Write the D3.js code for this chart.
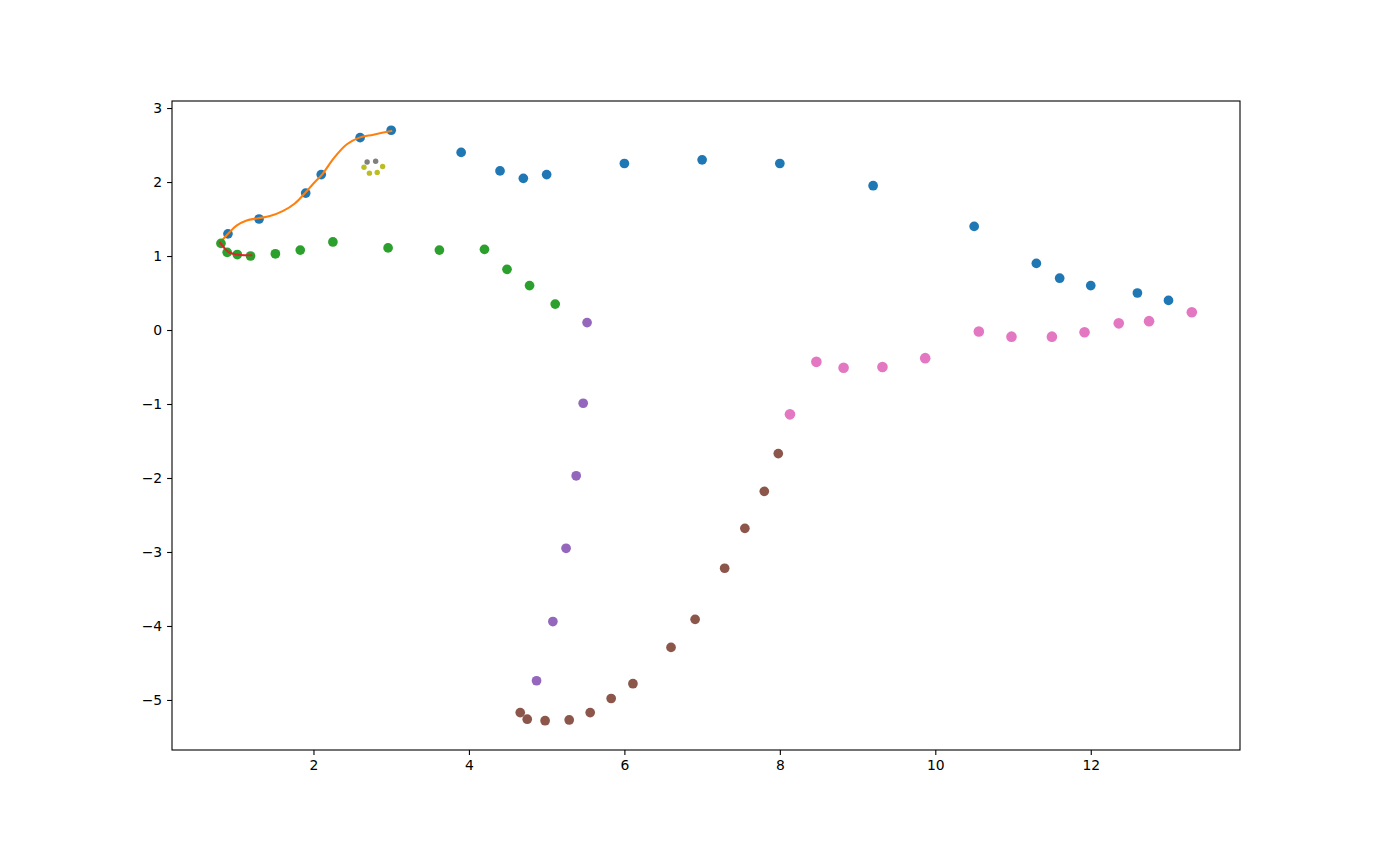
<!DOCTYPE html>
<meta charset="utf-8">
<style>
  body { margin: 0; background: #fff; }
  .tick text { font-family: "DejaVu Sans", sans-serif; font-size: 13.9px; fill: #000; }
  .tick line { stroke: #000; stroke-width: 1.1; }
</style>
<svg width="1378" height="843"></svg>
<script src="https://cdn.jsdelivr.net/npm/d3@7"></script>
<script>
// scatter series, in matplotlib colour-cycle order
var blueX = [0.9, 1.3, 1.9, 2.1, 2.6, 3.0, 3.9, 4.4, 4.7, 5.0, 6.0, 7.0, 8.0, 9.2, 10.5, 11.3, 11.6, 12.0, 12.6, 13.0];
var blueY = [1.3, 1.5, 1.85, 2.1, 2.6, 2.7, 2.4, 2.15, 2.05, 2.1, 2.25, 2.3, 2.25, 1.95, 1.4, 0.9, 0.7, 0.6, 0.5, 0.4];

// smooth fitted curve
var orangeX = [0.84, 0.91, 1.01, 1.14, 1.29, 1.44, 1.61, 1.76, 1.89, 2.0, 2.11, 2.26, 2.43, 2.59, 2.77, 3.0];
var orangeY = [1.23, 1.31, 1.41, 1.48, 1.51, 1.54, 1.61, 1.71, 1.85, 1.98, 2.1, 2.32, 2.51, 2.6, 2.64, 2.69];

var greenX = [0.81, 0.89, 1.02, 1.19, 1.51, 1.83, 2.25, 2.96, 3.62, 4.2, 4.49, 4.78, 5.11];
var greenY = [1.17, 1.05, 1.02, 1.0, 1.03, 1.08, 1.19, 1.11, 1.08, 1.09, 0.82, 0.6, 0.35];

var redX = [0.8, 0.9, 1.0, 1.2];
var redY = [1.18, 1.06, 1.02, 1.01];

var purpleX = [5.52, 5.47, 5.38, 5.25, 5.08, 4.87];
var purpleY = [0.1, -0.99, -1.97, -2.95, -3.94, -4.74];

var brownX = [4.66, 4.75, 4.98, 5.29, 5.56, 5.83, 6.11, 6.6, 6.91, 7.29, 7.55, 7.8, 7.98];
var brownY = [-5.17, -5.26, -5.28, -5.27, -5.17, -4.98, -4.78, -4.29, -3.91, -3.22, -2.68, -2.18, -1.67];

var pinkX = [8.13, 8.47, 8.82, 9.32, 9.87, 10.56, 10.98, 11.5, 11.92, 12.36, 12.75, 13.3];
var pinkY = [-1.14, -0.43, -0.51, -0.5, -0.38, -0.02, -0.09, -0.09, -0.03, 0.09, 0.12, 0.24];

var grayX = [2.69, 2.8];
var grayY = [2.27, 2.28];

var oliveX = [2.65, 2.89, 2.72, 2.82];
var oliveY = [2.2, 2.21, 2.12, 2.13];

var xTicks = [2, 4, 6, 8, 10, 12];
var yTicks = [-5, -4, -3, -2, -1, 0, 1, 2, 3];

var svg = d3.select("svg");
var plotLeft = 172, plotRight = 1240, plotTop = 101, plotBottom = 750;

var x = d3.scaleLinear().domain([0.18, 13.92]).range([plotLeft, plotRight]);
var y = d3.scaleLinear().domain([-5.676, 3.095]).range([plotBottom, plotTop]);

var fmt = function(d) { return d < 0 ? "\u2212" + Math.abs(d) : "" + d; };

svg.append("g")
    .attr("transform", "translate(0," + plotBottom + ")")
    .call(d3.axisBottom(x).tickValues(xTicks).tickSize(4.9).tickPadding(4.9).tickFormat(fmt))
  .select(".domain").remove();

svg.append("g")
    .attr("transform", "translate(" + plotLeft + ",0)")
    .call(d3.axisLeft(y).tickValues(yTicks).tickSize(4.9).tickPadding(4.9).tickFormat(fmt))
  .select(".domain").remove();

function zip(xs, ys) { return xs.map(function(v, i) { return [v, ys[i]]; }); }

function dots(xs, ys, color, r) {
  svg.append("g").selectAll("circle")
    .data(zip(xs, ys))
    .enter().append("circle")
      .attr("cx", function(d) { return x(d[0]); })
      .attr("cy", function(d) { return y(d[1]); })
      .attr("r", r)
      .attr("fill", color);
}

var line = d3.line()
    .x(function(d) { return x(d[0]); })
    .y(function(d) { return y(d[1]); })
    .curve(d3.curveCatmullRom);

function curve(xs, ys, color) {
  svg.append("path")
      .datum(zip(xs, ys))
      .attr("d", line)
      .attr("fill", "none")
      .attr("stroke", color)
      .attr("stroke-width", 2.1)
      .attr("stroke-linecap", "square");
}

dots(blueX, blueY, "#1f77b4", 4.85);
curve(orangeX, orangeY, "#ff7f0e");
dots(greenX, greenY, "#2ca02c", 4.85);
curve(redX, redY, "#d62728");
dots(purpleX, purpleY, "#9467bd", 4.85);
dots(brownX, brownY, "#8c564b", 4.85);
dots(pinkX, pinkY, "#e377c2", 5.3);
dots(grayX, grayY, "#7f7f7f", 2.7);
dots(oliveX, oliveY, "#bcbd22", 2.7);

// axes frame
svg.append("rect")
    .attr("x", plotLeft).attr("y", plotTop)
    .attr("width", plotRight - plotLeft).attr("height", plotBottom - plotTop)
    .attr("fill", "none")
    .attr("stroke", "#000")
    .attr("stroke-width", 1.1);
</script>
